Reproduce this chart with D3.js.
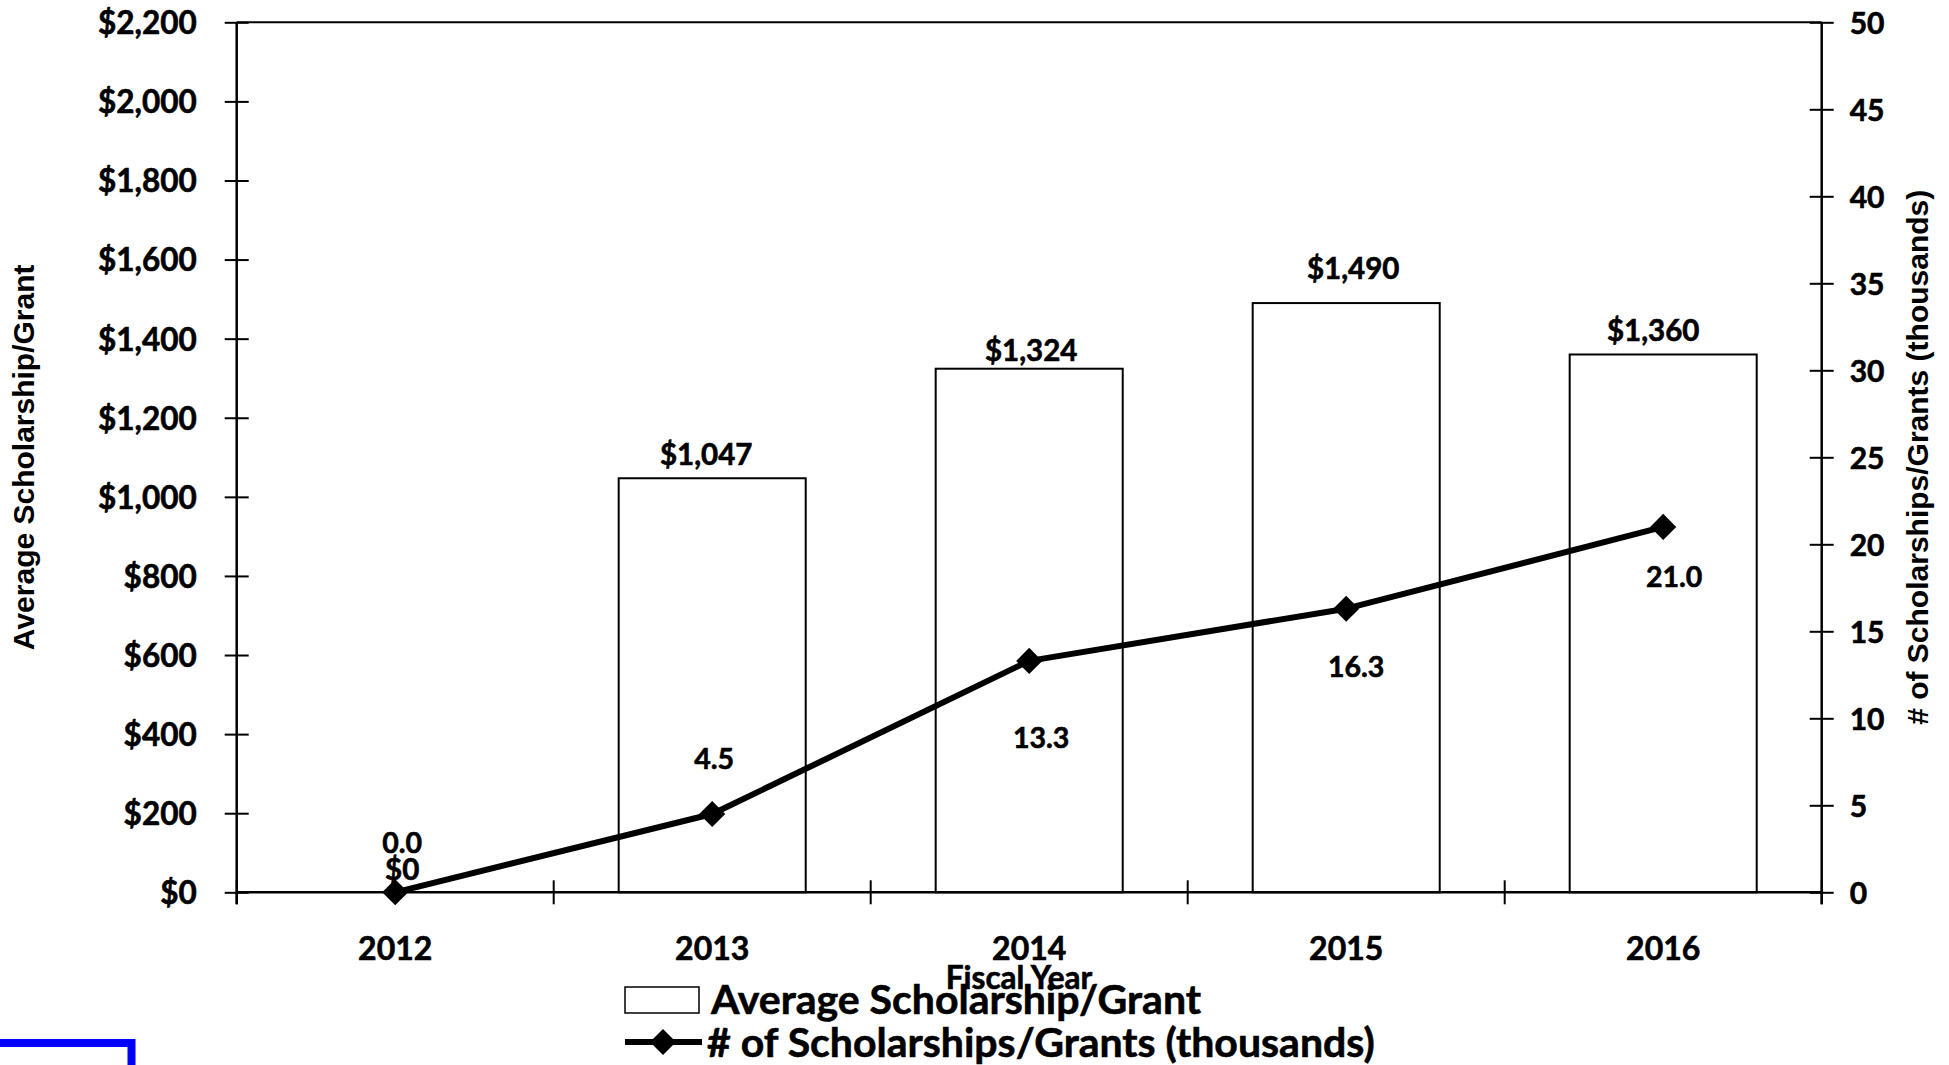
<!DOCTYPE html>
<html>
<head>
<meta charset="utf-8">
<script src="https://cdn.jsdelivr.net/npm/d3@7"></script>
<style>
  html, body { margin: 0; padding: 0; background: #fff; }
  svg { display: block; }
  .lbl { font-family: Lato, "Open Sans", sans-serif; font-weight: 700; fill: #000;
         stroke: #000; stroke-width: 0.6px; paint-order: stroke; }
  .ttl { font-family: "Liberation Sans", Arial, sans-serif; font-weight: 700; fill: #000; }
</style>
</head>
<body>
<svg id="chart" width="1949" height="1065"></svg>
<script>
// Fiscal years on the category axis
const years = ["2012", "2013", "2014", "2015", "2016"];
// Average scholarship/grant amount in dollars (bars, left axis)
const avgAward = [0, 1047, 1324, 1490, 1360];
// Number of scholarships/grants in thousands (line, right axis)
const awardCount = [0.0, 4.5, 13.3, 16.3, 21.0];
// Axis tick values
const leftTicks = [0, 200, 400, 600, 800, 1000, 1200, 1400, 1600, 1800, 2000, 2200];
const rightTicks = [0, 5, 10, 15, 20, 25, 30, 35, 40, 45, 50];

// Hand-placed label nudges [dx, dy] for the value labels
const barLabelNudge = [[7, -12], [-6, -13], [2, -8], [7, -24], [-10, -13]];
const lineLabelNudge = [[7, -39], [2, -45], [12, 87], [10, 68], [11, 60]];

const svg = d3.select("#chart");

const plotLeft = 236.7, plotRight = 1821.7, plotTop = 22.3, plotBottom = 892.3;
const tick = 12;

const x = d3.scaleBand().domain(years).range([plotLeft, plotRight])
  .paddingInner(0.41).paddingOuter(0.205);
const yL = d3.scaleLinear().domain([0, 2200]).range([plotBottom, plotTop]);
const yR = d3.scaleLinear().domain([0, 50]).range([plotBottom, plotTop]);
const cx = d => x(d) + x.bandwidth() / 2;

// Bars
svg.append("g").selectAll("rect")
  .data(years.map((y, i) => ({ year: y, v: avgAward[i] })))
  .join("rect")
  .attr("x", d => x(d.year))
  .attr("width", x.bandwidth())
  .attr("y", d => yL(d.v))
  .attr("height", d => yL(0) - yL(d.v))
  .attr("fill", "#fff")
  .attr("stroke", "#000")
  .attr("stroke-width", 2);

// Plot frame: top border
svg.append("line")
  .attr("x1", plotLeft).attr("x2", plotRight).attr("y1", plotTop).attr("y2", plotTop)
  .attr("stroke", "#000").attr("stroke-width", 2);

// Left axis
const gL = svg.append("g").attr("transform", `translate(${plotLeft},0)`)
  .call(d3.axisLeft(yL).tickValues(leftTicks).tickSize(tick).tickPadding(28)
    .tickFormat(d => "$" + d3.format(",")(d)));
gL.select(".domain").remove();
gL.selectAll(".tick line").attr("x1", tick).attr("stroke-width", 2);
gL.selectAll(".tick text").attr("class", "lbl").style("font-size", "31.5px").attr("dy", "0.36em");
gL.append("line").attr("x1", 0).attr("x2", 0).attr("y1", plotTop).attr("y2", plotBottom + tick)
  .attr("stroke", "#000").attr("stroke-width", 2.5);

// Right axis
const gR = svg.append("g").attr("transform", `translate(${plotRight},0)`)
  .call(d3.axisRight(yR).tickValues(rightTicks).tickSize(tick).tickPadding(16));
gR.select(".domain").remove();
gR.selectAll(".tick line").attr("x1", -tick).attr("stroke-width", 2);
gR.selectAll(".tick text").attr("class", "lbl").style("font-size", "30px").attr("dy", "0.36em");
gR.append("line").attr("x1", 0).attr("x2", 0).attr("y1", plotTop).attr("y2", plotBottom + tick)
  .attr("stroke", "#000").attr("stroke-width", 2.5);

// Category axis
const gX = svg.append("g").attr("transform", `translate(0,${plotBottom})`)
  .call(d3.axisBottom(x).tickSize(0).tickPadding(45));
gX.select(".domain").remove();
gX.selectAll(".tick text").attr("class", "lbl").style("font-size", "32px");
gX.append("line").attr("x1", plotLeft).attr("x2", plotRight).attr("y1", 0).attr("y2", 0)
  .attr("stroke", "#000").attr("stroke-width", 2.5);
const step = x.step();
gX.selectAll(".bound").data(d3.range(years.length + 1)).join("line")
  .attr("class", "bound")
  .attr("x1", i => plotLeft + i * step).attr("x2", i => plotLeft + i * step)
  .attr("y1", -tick).attr("y2", tick)
  .attr("stroke", "#000").attr("stroke-width", 2);

// Axis titles
svg.append("text").attr("class", "ttl")
  .attr("transform", `translate(34,${(plotTop + plotBottom) / 2}) rotate(-90)`)
  .attr("text-anchor", "middle").style("font-size", "30px")
  .text("Average Scholarship/Grant");
svg.append("text").attr("class", "ttl")
  .attr("transform", `translate(1928,${(plotTop + plotBottom) / 2}) rotate(-90)`)
  .attr("text-anchor", "middle").style("font-size", "30px")
  .text("# of Scholarships/Grants (thousands)");
svg.append("text").attr("class", "lbl")
  .attr("x", 1019).attr("y", 989).attr("text-anchor", "middle")
  .style("font-size", "31.5px").text("Fiscal Year");

// Count line with diamond markers
const pts = years.map((y, i) => ({ year: y, v: awardCount[i] }));
svg.append("path").datum(pts)
  .attr("d", d3.line().x(d => cx(d.year)).y(d => yR(d.v)))
  .attr("fill", "none").attr("stroke", "#000").attr("stroke-width", 6)
  .attr("stroke-linejoin", "round");
const diamond = d3.symbol(d3.symbolSquare, 340);
svg.append("g").selectAll("path").data(pts).join("path")
  .attr("d", diamond)
  .attr("transform", d => `translate(${cx(d.year)},${yR(d.v)}) rotate(45)`)
  .attr("fill", "#000");

// Value labels
svg.append("g").selectAll("text")
  .data(years.map((y, i) => ({ year: y, v: avgAward[i], n: barLabelNudge[i] })))
  .join("text").attr("class", "lbl")
  .attr("x", d => cx(d.year) + d.n[0]).attr("y", d => yL(d.v) + d.n[1])
  .attr("text-anchor", "middle").style("font-size", "29.5px")
  .text(d => "$" + d3.format(",")(d.v));
svg.append("g").selectAll("text")
  .data(pts.map((d, i) => ({ ...d, n: lineLabelNudge[i] })))
  .join("text").attr("class", "lbl")
  .attr("x", d => cx(d.year) + d.n[0]).attr("y", d => yR(d.v) + d.n[1])
  .attr("text-anchor", "middle").style("font-size", "28.5px")
  .text(d => d3.format(".1f")(d.v));

// Legend
const lg = svg.append("g");
lg.append("rect").attr("x", 625).attr("y", 987).attr("width", 74).attr("height", 26)
  .attr("fill", "#fff").attr("stroke", "#000").attr("stroke-width", 1.5);
lg.append("text").attr("class", "lbl").attr("x", 711).attr("y", 1014)
  .style("font-size", "41px").text("Average Scholarship/Grant");
lg.append("line").attr("x1", 625).attr("x2", 702).attr("y1", 1042).attr("y2", 1042)
  .attr("stroke", "#000").attr("stroke-width", 6);
lg.append("path").attr("d", diamond).attr("transform", "translate(663,1042) rotate(45)").attr("fill", "#000");
lg.append("text").attr("class", "lbl").attr("x", 707).attr("y", 1057)
  .style("font-size", "41px").text("# of Scholarships/Grants (thousands)");

// Frame corner in the lower left and page number
svg.append("rect").attr("x", -20).attr("y", 1043).attr("width", 151.5).attr("height", 60)
  .attr("fill", "none").attr("stroke", "#0000ff").attr("stroke-width", 8);
svg.append("text").attr("x", 1924).attr("y", 1083)
  .style("font-family", "Liberation Sans, Arial, sans-serif").style("font-size", "26px")
  .text("51");
</script>
</body>
</html>
